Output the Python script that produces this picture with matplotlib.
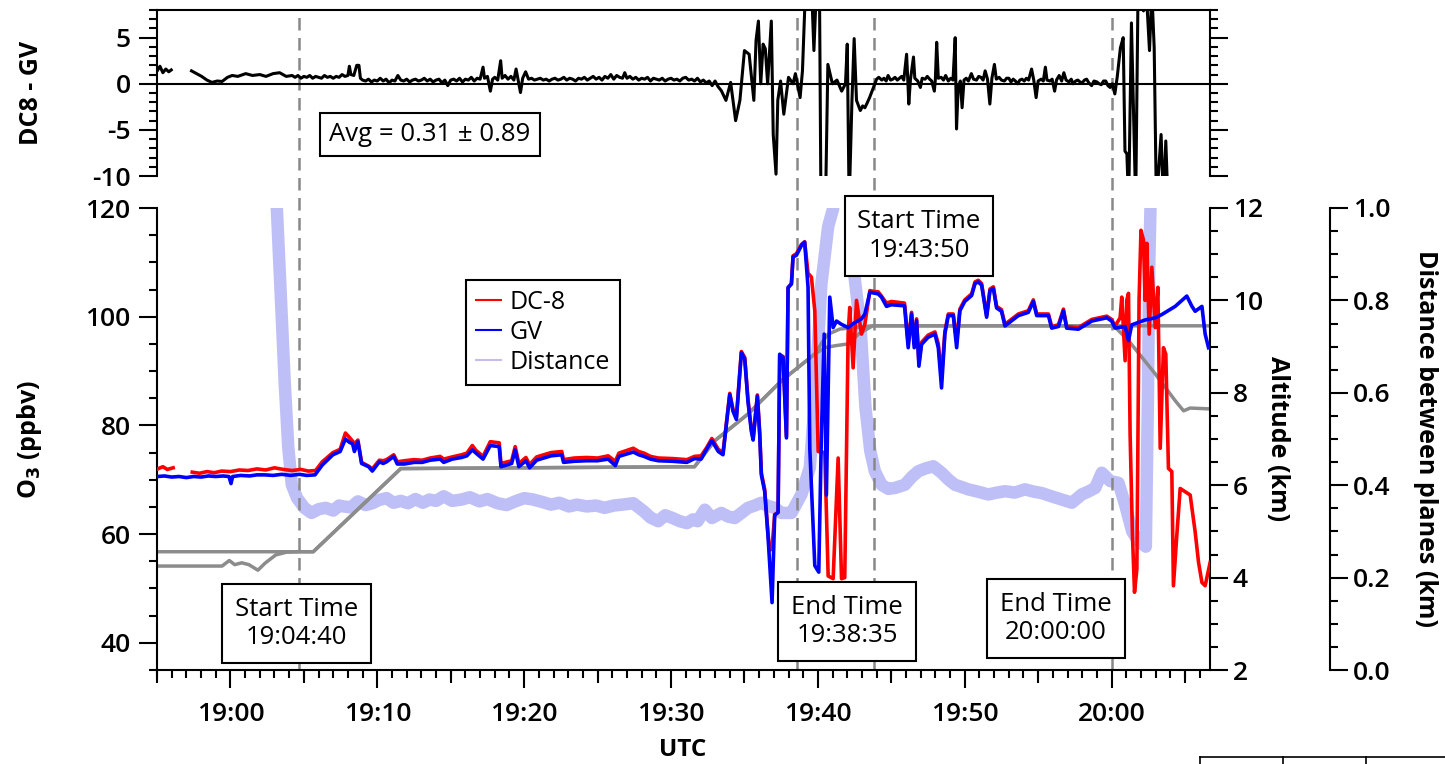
import numpy as np
import matplotlib
matplotlib.use("Agg")
import matplotlib.pyplot as plt
from matplotlib.ticker import MultipleLocator, FormatStrFormatter
from matplotlib.lines import Line2D

plt.rcParams['font.family'] = ['Open Sans', 'DejaVu Sans']
plt.rcParams['axes.unicode_minus'] = False

nan = np.nan

# all times are minutes after 19:00 UTC
# DC-8 ozone (ppbv)
dc8_o3 = [
    (-4.95, 72.0), (-4.6, 72.4), (-4.3, 71.9), (-3.9, 72.2), (-3.5, nan),
    (-2.6, 71.4), (-2.1, 71.2), (-1.6, 71.5), (-1.1, 71.3), (-0.6, 71.6),
    (0.0, 71.5), (0.6, 71.8), (1.2, 71.7), (1.8, 72.0), (2.4, 71.8),
    (3.0, 72.2), (3.6, 71.9), (4.2, 71.7), (4.8, 71.9), (5.3, 71.6),
    (5.8, 71.7), (6.25, 73.3), (6.98, 75.0), (7.47, 75.6), (7.83, 78.6),
    (8.1, 77.8), (8.32, 77.1), (8.44, 76.6), (8.68, 77.3), (8.93, 73.2),
    (9.41, 72.5), (9.66, 72.0), (10.14, 73.6), (10.4, 73.5), (10.63, 73.7),
    (11.12, 74.6), (11.36, 73.3), (11.85, 73.5), (12.5, 73.7), (13.06, 73.6),
    (13.6, 74.0), (14.28, 74.3), (14.52, 73.8), (15.1, 74.2), (15.74, 74.6),
    (16.1, 74.9), (16.47, 76.3), (16.72, 75.4), (17.2, 74.3), (17.69, 77.0),
    (18.3, 76.8), (18.42, 73.0), (19.15, 73.5), (19.39, 76.1), (19.64, 73.0),
    (20.12, 74.1), (20.37, 72.8), (20.85, 74.2), (21.83, 75.0), (22.56, 75.2),
    (22.68, 73.7), (23.4, 74.0), (24.26, 74.1), (25.0, 74.0), (25.72, 74.4),
    (26.21, 73.4), (26.45, 74.9), (27.43, 75.8), (27.8, 75.2), (28.16, 74.9),
    (28.6, 74.3), (29.13, 74.0), (30.1, 73.9), (31.08, 73.7), (31.6, 74.3),
    (32.05, 74.4), (32.4, 75.8), (32.78, 77.6), (33.22, 75.6), (33.54, 75.0),
    (34.0, 85.9), (34.22, 83.0), (34.45, 81.5), (34.79, 93.6), (35.02, 92.5),
    (35.24, 84.8), (35.47, 79.3), (35.59, 77.6), (35.88, 85.6), (36.04, 78.6),
    (36.15, 71.3), (36.38, 68.2), (36.6, 60.2), (36.72, 57.0), (36.88, 57.5),
    (37.06, 63.6), (37.29, 64.0), (37.4, 92.8), (37.63, 92.7), (37.86, 78.0),
    (37.97, 105.2), (38.2, 106.2), (38.31, 111.2), (38.54, 111.6), (38.88, 113.3),
    (39.1, 113.8), (39.33, 108.0), (39.56, 107.3), (39.79, 101.1), (40.02, 75.2),
    (40.47, 75.0), (40.7, 52.3), (41.04, 51.8), (41.38, 74.0), (41.61, 51.8),
    (41.83, 52.0), (42.06, 96.8), (42.17, 101.7), (42.4, 90.6), (42.63, 103.0),
    (42.97, 96.8), (43.2, 98.6), (43.54, 104.8), (43.88, 104.6), (44.1, 104.6),
    (44.33, 103.8), (44.67, 102.5), (45.0, 102.8), (45.9, 102.5), (46.15, 95.0),
    (46.38, 100.8), (46.56, 95.0), (46.72, 99.6), (46.88, 91.5), (47.06, 95.3),
    (47.5, 96.6), (47.97, 97.2), (48.2, 95.0), (48.42, 89.0), (48.65, 97.3),
    (48.88, 100.5), (49.22, 100.5), (49.45, 95.5), (49.67, 101.4), (50.0, 103.1),
    (50.47, 104.2), (50.7, 106.4), (50.92, 106.7), (51.15, 106.1), (51.49, 100.2),
    (51.72, 105.1), (51.95, 105.5), (52.17, 101.9), (52.5, 101.3), (52.74, 98.6),
    (53.65, 100.5), (54.33, 101.1), (54.67, 103.1), (54.9, 100.5), (55.7, 100.5),
    (55.92, 98.2), (56.38, 98.5), (56.72, 101.4), (56.94, 98.2), (57.74, 98.0),
    (58.65, 99.5), (59.67, 100.1), (60.0, 99.5), (60.24, 98.3), (60.58, 99.8),
    (60.69, 103.6), (60.92, 91.9), (61.03, 103.0), (61.15, 104.3), (61.26, 78.3),
    (61.42, 59.8), (61.56, 49.3), (61.72, 53.6), (61.87, 103.0), (62.0, 115.9),
    (62.17, 114.1), (62.28, 103.0), (62.4, 113.5), (62.56, 96.8), (62.74, 109.1),
    (62.97, 98.0), (63.15, 105.4), (63.31, 75.8), (63.53, 94.3), (63.69, 93.1),
    (63.87, 72.1), (64.1, 71.5), (64.21, 50.5), (64.44, 59.8), (64.67, 68.4),
    (65.01, 67.8), (65.35, 67.2), (65.69, 60.4), (65.92, 54.8), (66.15, 51.1),
    (66.37, 50.5), (66.71, 54.8),
]

# GV ozone (ppbv)
gv_o3 = [
    (-4.95, 70.6), (-4.5, 70.7), (-4.0, 70.5), (-3.5, 70.6), (-3.0, 70.4),
    (-2.51, 70.6), (-2.0, 70.5), (-1.5, 70.7), (-1.0, 70.6), (-0.5, 70.7),
    (-0.1, 70.6), (0.04, 69.3), (0.15, 70.6), (0.7, 70.8), (1.3, 70.7),
    (1.8, 70.9), (2.35, 70.9), (2.9, 70.8), (3.5, 71.0), (4.1, 70.8),
    (4.7, 71.0), (5.2, 70.8), (5.76, 70.9), (6.25, 72.7), (6.98, 74.6),
    (7.47, 75.2), (7.83, 77.5), (8.1, 76.9), (8.32, 76.6), (8.44, 75.2),
    (8.68, 77.0), (8.93, 73.0), (9.41, 72.4), (9.66, 71.6), (10.14, 73.3),
    (10.4, 73.0), (10.63, 73.3), (11.12, 74.3), (11.36, 72.9), (11.85, 72.9),
    (12.5, 73.2), (13.06, 73.2), (13.6, 73.6), (14.28, 73.8), (14.52, 73.2),
    (15.1, 73.8), (15.74, 74.1), (16.1, 74.4), (16.47, 75.5), (16.72, 74.9),
    (17.2, 73.8), (17.69, 76.3), (18.3, 76.1), (18.42, 72.4), (19.15, 73.0),
    (19.39, 75.5), (19.64, 72.4), (20.12, 73.5), (20.37, 72.2), (20.85, 73.6),
    (21.83, 74.4), (22.56, 74.6), (22.68, 73.2), (23.4, 73.4), (24.26, 73.5),
    (25.0, 73.5), (25.72, 73.8), (26.21, 72.6), (26.45, 74.3), (27.43, 75.1),
    (27.8, 74.6), (28.16, 74.3), (28.6, 73.8), (29.13, 73.5), (30.1, 73.4),
    (31.08, 73.2), (31.6, 73.9), (32.05, 73.8), (32.4, 75.5), (32.78, 77.2),
    (33.22, 75.2), (33.54, 74.6), (34.0, 85.7), (34.22, 82.6), (34.45, 81.1),
    (34.79, 93.4), (35.02, 92.2), (35.24, 84.4), (35.47, 78.9), (35.59, 77.3),
    (35.88, 85.4), (36.04, 78.3), (36.15, 70.9), (36.38, 67.8), (36.6, 59.8),
    (36.88, 47.4), (37.06, 63.5), (37.29, 64.0), (37.4, 93.1), (37.63, 92.5),
    (37.86, 77.7), (37.97, 105.4), (38.2, 106.0), (38.31, 111.0), (38.54, 111.3),
    (38.88, 113.1), (39.1, 113.7), (39.33, 105.4), (39.45, 75.8), (39.79, 54.2),
    (40.06, 53.0), (40.24, 78.3), (40.43, 96.8), (40.58, 67.2), (40.81, 103.6),
    (41.04, 98.0), (41.27, 99.2), (41.6, 98.6), (42.06, 98.0), (42.5, 98.9),
    (42.97, 99.6), (43.2, 100.5), (43.54, 104.5), (44.1, 104.2), (44.33, 103.6),
    (44.67, 101.9), (45.0, 102.2), (45.9, 102.0), (46.15, 94.3), (46.38, 100.5),
    (46.56, 94.3), (46.72, 99.3), (46.88, 90.9), (47.06, 94.9), (47.5, 96.2),
    (47.97, 96.8), (48.2, 94.3), (48.42, 86.9), (48.65, 96.9), (48.88, 100.2),
    (49.22, 100.2), (49.45, 94.3), (49.67, 101.1), (50.0, 102.8), (50.47, 103.9),
    (50.7, 106.1), (50.92, 106.4), (51.15, 105.8), (51.49, 99.9), (51.72, 104.8),
    (51.95, 105.2), (52.17, 101.6), (52.5, 101.0), (52.74, 98.3), (53.65, 100.2),
    (54.33, 100.8), (54.67, 102.8), (54.9, 100.2), (55.7, 100.2), (55.92, 97.9),
    (56.38, 98.2), (56.72, 101.1), (56.94, 97.9), (57.74, 97.7), (58.65, 99.2),
    (59.67, 99.8), (60.0, 99.2), (60.24, 97.9), (60.92, 98.2), (61.15, 95.6),
    (61.37, 98.5), (62.28, 99.4), (62.97, 99.8), (63.42, 100.4), (64.33, 101.9),
    (65.12, 103.8), (65.47, 101.9), (65.69, 101.0), (66.15, 101.9), (66.37, 96.8),
    (66.6, 94.3),
]

# aircraft altitude (km)
dc8_alt = [
    (-5.0, 4.56), (5.64, 4.56), (11.6, 6.36), (31.6, 6.40), (32.97, 6.96),
    (35.24, 7.54), (37.52, 8.26), (39.79, 8.84), (40.3, 9.10), (40.7, 9.27),
    (41.5, 9.38), (43.7, 9.45), (60.0, 9.45), (60.24, 9.42), (61.15, 9.13),
    (62.97, 8.41), (64.33, 7.83), (64.9, 7.61), (65.35, 7.67), (66.8, 7.65),
]
gv_alt = [
    (-5.0, 4.25), (-0.57, 4.25), (-0.08, 4.37), (0.29, 4.28), (0.77, 4.32),
    (1.26, 4.28), (1.87, 4.16), (2.35, 4.31), (3.08, 4.49), (3.81, 4.55),
    (4.79, 4.56), (5.64, 4.56), (11.6, 6.36), (31.6, 6.40), (32.97, 6.96),
    (35.24, 7.54), (37.52, 8.26), (39.79, 8.84), (40.5, 8.98), (41.2, 9.02),
    (42.1, 9.06), (42.76, 9.27), (43.73, 9.45), (66.8, 9.45),
]

# distance between planes (km)
distance = [
    (2.9, 1.15), (3.16, 1.0), (3.69, 0.626), (3.94, 0.481), (4.18, 0.401),
    (4.54, 0.372), (5.03, 0.351), (5.52, 0.340), (6.0, 0.348), (6.49, 0.351),
    (7.0, 0.345), (7.4, 0.356), (7.71, 0.354), (8.2, 0.352), (8.68, 0.365),
    (9.2, 0.357), (9.66, 0.361), (10.1, 0.368), (10.63, 0.372), (11.1, 0.362),
    (11.6, 0.366), (12.09, 0.361), (12.6, 0.370), (13.1, 0.362), (13.55, 0.369),
    (14.0, 0.366), (14.52, 0.376), (15.1, 0.366), (15.74, 0.369), (16.3, 0.374),
    (16.96, 0.365), (17.5, 0.370), (18.18, 0.361), (18.8, 0.357), (19.39, 0.365),
    (20.0, 0.372), (20.61, 0.369), (21.2, 0.364), (21.83, 0.358), (22.4, 0.362),
    (23.05, 0.354), (23.6, 0.358), (24.26, 0.354), (24.9, 0.356), (25.48, 0.351),
    (26.1, 0.356), (26.7, 0.358), (27.43, 0.361), (28.16, 0.343), (28.6, 0.330),
    (29.13, 0.322), (29.6, 0.335), (30.1, 0.329), (30.6, 0.322), (31.08, 0.318),
    (31.5, 0.326), (31.81, 0.322), (32.3, 0.347), (32.78, 0.329), (33.43, 0.340),
    (33.9, 0.332), (34.34, 0.329), (34.8, 0.340), (35.24, 0.351), (35.7, 0.356),
    (36.15, 0.362), (36.6, 0.355), (37.06, 0.351), (37.52, 0.340), (38.2, 0.340),
    (38.88, 0.380), (39.45, 0.438), (39.79, 0.583), (40.24, 0.836), (40.7, 0.960),
    (41.04, 0.999), (41.4, 1.08), (41.9, 1.10), (42.2, 1.0), (42.5, 0.85),
    (42.92, 0.735), (43.24, 0.568), (43.57, 0.474), (43.88, 0.430), (44.33, 0.401),
    (44.8, 0.392), (45.24, 0.394), (45.92, 0.401), (46.4, 0.418), (46.83, 0.430),
    (47.3, 0.436), (47.86, 0.441), (48.42, 0.427), (48.9, 0.412), (49.33, 0.401),
    (49.8, 0.396), (50.24, 0.391), (50.9, 0.386), (51.6, 0.380), (52.2, 0.384),
    (52.74, 0.387), (53.4, 0.384), (54.1, 0.391), (54.7, 0.386), (55.24, 0.383),
    (55.9, 0.376), (56.6, 0.369), (57.29, 0.362), (57.97, 0.380), (58.4, 0.386),
    (58.88, 0.394), (59.33, 0.427), (59.9, 0.409), (60.47, 0.405), (60.92, 0.358),
    (61.4, 0.30), (61.8, 0.28), (62.33, 0.267), (62.47, 0.583), (62.56, 0.873),
    (62.65, 1.003), (62.8, 1.12),
]

# DC8 - GV ozone difference (ppbv)
o3_diff = [
    (-4.95, 1.5), (-4.8, 1.9), (-4.6, 1.2), (-4.4, 1.6), (-4.2, 1.3),
    (-4.03, 1.5), (-3.3, nan), (-2.65, 1.4), (-2.3, 1.1), (-1.96, 0.8),
    (-1.6, 0.4), (-1.26, 0.15), (-0.9, 0.3), (-0.57, 0.25), (-0.2, 0.7),
    (0.12, 0.9), (0.5, 0.8), (1.04, 1.1), (1.5, 0.9), (2.0, 1.0),
    (2.42, 0.8), (2.9, 1.1), (3.35, 1.2), (3.8, 0.8), (4.2, 0.9),
    (4.4, 0.7), (4.6, 0.9), (4.8, 0.6), (5.0, 0.8), (5.2, 0.7),
    (5.4, 0.9), (5.6, 0.6), (5.8, 0.8), (6.0, 0.7), (6.2, 0.6),
    (6.4, 0.9), (6.6, 0.7), (6.8, 0.8), (7.0, 0.6), (7.2, 0.8),
    (7.4, 0.7), (7.6, 1.0), (7.8, 0.8), (8.0, 0.9), (8.1, 1.9),
    (8.2, 1.0), (8.4, 0.9), (8.6, 2.0), (8.75, 2.0), (8.85, 0.6),
    (9.0, 0.4), (9.2, 0.3), (9.4, 0.5), (9.6, 0.2), (9.8, 0.4),
    (10.0, 0.3), (10.2, 0.6), (10.4, 0.3), (10.6, 0.5), (10.8, 0.1),
    (11.0, 0.4), (11.2, 0.3), (11.4, 0.9), (11.6, 0.4), (11.8, 0.3),
    (12.0, 0.5), (12.2, 0.2), (12.4, 0.4), (12.6, 0.5), (12.8, 0.3),
    (13.0, 0.4), (13.2, 0.6), (13.4, 0.3), (13.6, 0.5), (13.8, 0.2),
    (14.0, 0.4), (14.2, 0.5), (14.4, 0.1), (14.6, 0.4), (14.8, -0.2),
    (15.0, 0.4), (15.2, 0.5), (15.4, 0.3), (15.6, 0.6), (15.8, 0.2),
    (16.0, 0.5), (16.2, 0.4), (16.4, 0.7), (16.6, 0.3), (16.8, 0.6),
    (17.0, 0.5), (17.2, 1.8), (17.3, 0.6), (17.5, 0.8), (17.7, -0.8),
    (17.85, 0.5), (18.0, 0.7), (18.2, 0.4), (18.4, 2.5), (18.5, 0.6),
    (18.7, 0.9), (18.9, 0.5), (19.1, 0.8), (19.3, 0.4), (19.45, 1.6),
    (19.6, 0.3), (19.75, -0.95), (19.9, 0.6), (20.1, 1.3), (20.3, 0.5),
    (20.5, 0.6), (20.7, 0.4), (20.9, 0.5), (21.1, 0.6), (21.3, 0.4),
    (21.5, 0.5), (21.7, 0.3), (21.9, 0.5), (22.1, 0.6), (22.3, 0.4),
    (22.5, 0.5), (22.7, 0.7), (22.9, 0.4), (23.1, 0.6), (23.3, 0.5),
    (23.5, 0.3), (23.7, 0.6), (23.9, 0.5), (24.1, 0.7), (24.3, 0.4),
    (24.5, 0.6), (24.7, 0.8), (24.9, 0.5), (25.1, 0.7), (25.3, 0.4),
    (25.5, 0.8), (25.7, 0.6), (25.9, 1.0), (26.1, 0.5), (26.3, 0.9),
    (26.5, 0.7), (26.7, 0.6), (26.85, 1.2), (27.0, 0.6), (27.2, 0.8),
    (27.4, 0.5), (27.6, 0.7), (27.8, 0.4), (28.0, 0.6), (28.2, 0.5),
    (28.4, 0.7), (28.6, 0.3), (28.8, 0.6), (29.0, 0.5), (29.2, 0.4),
    (29.4, 0.6), (29.6, 0.3), (29.8, 0.5), (30.0, 0.6), (30.2, 0.4),
    (30.4, 0.5), (30.6, 0.3), (30.8, 0.6), (31.0, 0.7), (31.2, 0.4),
    (31.4, 0.5), (31.6, 0.3), (31.8, 0.6), (32.0, 0.2), (32.2, 0.4),
    (32.4, 0.1), (32.6, 0.3), (32.8, -0.2), (33.0, 0.3), (33.2, -0.3),
    (33.43, -0.76), (33.74, -1.8), (34.06, 0.15), (34.4, -4.0), (34.69, -1.8),
    (35.0, 3.6), (35.32, 3.2), (35.64, -1.8), (35.79, 4.7), (35.95, 6.8),
    (36.11, 0.0), (36.27, 4.3), (36.42, 3.8), (36.58, 0.0), (36.83, 6.8),
    (36.96, -5.5), (37.15, -9.8), (37.27, -1.8), (37.46, 0.3), (37.68, -3.3),
    (38.0, 0.7), (38.31, 0.0), (38.47, 1.1), (38.79, -1.5), (38.95, 1.4),
    (39.1, 7.9), (39.26, 10.0), (39.58, 10.0), (39.73, 3.6), (39.89, 10.0),
    (40.11, 10.0), (40.21, -13.0), (40.52, -13.0), (40.68, 2.1), (40.99, 0.0),
    (41.3, 0.4), (41.62, -0.8), (41.88, 0.0), (42.0, 4.3), (42.13, -13.0),
    (42.32, -1.8), (42.47, 4.9), (42.63, -1.8), (42.89, -2.9), (43.05, -2.4),
    (43.2, -2.6), (43.35, -2.1), (43.52, -1.5), (43.83, -0.2), (44.0, 0.5),
    (44.15, 0.7), (44.35, 0.4), (44.5, 0.6), (44.65, 0.3), (44.78, 0.9),
    (44.95, 0.4), (45.1, 0.5), (45.25, 0.7), (45.41, 0.4), (45.55, 0.6),
    (45.7, 0.8), (45.85, 0.4), (46.04, 3.2), (46.12, 0.5), (46.19, -2.2),
    (46.3, 0.4), (46.51, 2.9), (46.6, 0.6), (46.8, 0.3), (46.98, -0.4),
    (47.1, 0.6), (47.3, 0.5), (47.45, 0.8), (47.61, 0.5), (47.75, 0.3),
    (47.93, -0.8), (48.0, 0.5), (48.09, 4.5), (48.2, 0.6), (48.4, 0.7),
    (48.55, 0.4), (48.7, 0.9), (48.88, 0.3), (49.05, 0.6), (49.2, 0.4),
    (49.35, 5.0), (49.44, -4.9), (49.55, -0.5), (49.7, 0.3), (49.82, -2.6),
    (49.95, 0.4), (50.1, 0.6), (50.25, 0.3), (50.45, 1.1), (50.6, 0.5),
    (50.8, 0.4), (50.95, 0.8), (51.1, 0.7), (51.25, 0.4), (51.39, 1.4),
    (51.55, 0.5), (51.71, -2.2), (51.85, 0.6), (52.02, 2.1), (52.15, 0.5),
    (52.34, 0.7), (52.5, 0.4), (52.7, 0.3), (52.85, 0.6), (53.0, 0.6),
    (53.15, 0.2), (53.3, 0.5), (53.45, 0.3), (53.6, 0.0), (53.75, 0.4),
    (53.9, 0.5), (54.05, 0.3), (54.2, 0.6), (54.35, 0.4), (54.55, 1.6),
    (54.7, 0.4), (54.86, -1.5), (55.0, 0.3), (55.2, 0.5), (55.35, 0.3),
    (55.49, 1.8), (55.6, 0.4), (55.8, 0.3), (55.95, 0.5), (56.12, -0.8),
    (56.25, 0.4), (56.43, 0.9), (56.6, 0.3), (56.75, 1.2), (56.9, 0.4),
    (57.1, 0.2), (57.25, 0.5), (57.38, 0.0), (57.55, 0.3), (57.7, 0.4),
    (57.85, 0.2), (58.0, 0.1), (58.15, 0.4), (58.3, 0.5), (58.45, 0.1),
    (58.64, -0.2), (58.8, 0.3), (59.0, 0.2), (59.15, 0.0), (59.3, -0.1),
    (59.45, 0.3), (59.6, 0.3), (59.75, -0.2), (59.9, -0.4), (60.05, 0.0),
    (60.22, -1.1), (60.38, 0.7), (60.6, 3.9), (60.79, 5.0), (60.91, -7.3),
    (61.04, -7.6), (61.16, -13.0), (61.35, 6.6), (61.64, -13.0), (61.8, 10.0),
    (61.96, 10.0), (62.17, 7.9), (62.36, 10.0), (62.58, 3.6), (62.74, 10.0),
    (62.9, 3.9), (63.05, -13.0), (63.37, -5.5), (63.53, -13.0), (63.69, -6.2),
    (63.84, -13.0),
]

x_ticks = [0, 10, 20, 30, 40, 50, 60]
x_labels = ['19:00', '19:10', '19:20', '19:30', '19:40', '19:50', '20:00']
mid_ticks = [-5, 5, 15, 25, 35, 45, 55, 65]
marks = [4 + 40 / 60, 38 + 35 / 60, 43 + 50 / 60, 60.0]
avg_text = 'Avg = 0.31 \u00b1 0.89'

W, H = 1445, 764
fig = plt.figure(figsize=(W / 100, H / 100), dpi=100)
left, right = 157 / W, 1210 / W
ax_top = fig.add_axes([left, 1 - 176 / H, right - left, 166 / H])
ax = fig.add_axes([left, 1 - 670 / H, right - left, 462 / H])
ax_alt = ax.twinx()
ax_dist = ax.twinx()

ax_dist.set_zorder(1)
ax_alt.set_zorder(2)
ax.set_zorder(3)
ax_top.set_zorder(4)
for a in (ax, ax_alt, ax_dist, ax_top):
    a.patch.set_visible(False)
    for s in a.spines.values():
        s.set_linewidth(1.5)

xlim = (-5, 66.7)
tick_kw = dict(direction='out', width=1.5, labelsize=19)

# distance between planes
t, d = zip(*distance)
ax_dist.plot(t, d, color='#bfbff7', lw=9, solid_capstyle='butt')
ax_dist.set_ylim(0, 1.0)
ax_dist.spines['right'].set_position(('outward', 86.4))
for s in ('left', 'top', 'bottom'):
    ax_dist.spines[s].set_visible(False)
ax_dist.yaxis.set_major_locator(MultipleLocator(0.2))
ax_dist.yaxis.set_minor_locator(MultipleLocator(0.05))
ax_dist.yaxis.set_major_formatter(FormatStrFormatter('%.1f'))
ax_dist.tick_params(axis='y', which='major', length=13, **tick_kw)
ax_dist.tick_params(axis='y', which='minor', length=6, width=1.5, direction='out')
ax_dist.set_ylabel('Distance between planes (km)', rotation=270, va='bottom',
                   fontsize=18, fontweight='bold')
ax_dist.yaxis.set_label_coords(1.193, 0.5)

# altitudes
for series in (dc8_alt, gv_alt):
    t, a = zip(*series)
    ax_alt.plot(t, a, color='#8c8c8c', lw=2.5)
ax_alt.set_ylim(2, 12)
for s in ('left', 'top', 'bottom'):
    ax_alt.spines[s].set_visible(False)
ax_alt.yaxis.set_major_locator(MultipleLocator(2))
ax_alt.yaxis.set_minor_locator(MultipleLocator(0.5))
ax_alt.tick_params(axis='y', which='major', length=13, **tick_kw)
ax_alt.tick_params(axis='y', which='minor', length=6, width=1.5, direction='out')
ax_alt.set_ylabel('Altitude (km)', rotation=270, va='bottom',
                  fontsize=18, fontweight='bold')
ax_alt.yaxis.set_label_coords(1.052, 0.5)

# ozone
t, o = zip(*dc8_o3)
ax.plot(t, o, color='#ff0000', lw=2.6, zorder=3)
t, o = zip(*gv_o3)
ax.plot(t, o, color='#0000ff', lw=2.6, zorder=4)
ax.set_xlim(*xlim)
ax.set_ylim(35, 120)
ax.spines['top'].set_visible(False)
ax.spines['right'].set_visible(False)
ax.yaxis.set_major_locator(MultipleLocator(20))
ax.yaxis.set_minor_locator(MultipleLocator(5))
ax.set_xticks(x_ticks)
ax.set_xticklabels(x_labels)
ax.xaxis.set_minor_locator(MultipleLocator(1))
ax.tick_params(axis='both', which='major', length=13, pad=6, **tick_kw)
ax.tick_params(axis='x', which='major', pad=10)
ax.tick_params(axis='both', which='minor', length=6, width=1.5, direction='out')
ax.set_ylabel('O$_\\mathbf{3}$ (ppbv)', fontsize=18, fontweight='bold')
ax.yaxis.set_label_coords(-0.107, 0.5)
ax.set_xlabel('UTC', fontsize=17.5, fontweight='bold', va='top')
ax.xaxis.set_label_coords(0.4995, -0.147)

sec = ax.secondary_xaxis('bottom')
sec.set_xticks(mid_ticks)
sec.tick_params(axis='x', length=9, width=1.5, direction='out', labelbottom=False)
sec.xaxis.set_minor_locator(plt.NullLocator())
sec.spines['bottom'].set_visible(False)

for m in marks:
    ax.axvline(m, ymin=0, ymax=(670 - 10) / 462, color='#888888', lw=1.8,
               dashes=(5, 3), clip_on=False, zorder=1)

handles = [Line2D([], [], color='#ff0000', lw=1.5),
           Line2D([], [], color='#0000ff', lw=1.5),
           Line2D([], [], color='#c8bce8', lw=1.5)]
leg = ax.legend(handles, ['DC-8', 'GV', 'Distance'], loc='upper left',
                bbox_to_anchor=((466 - 157) / 1053, (670 - 280) / 462),
                borderaxespad=0, fancybox=False, framealpha=1, fontsize=18,
                handlelength=1.0, handletextpad=0.35, labelspacing=0.2,
                borderpad=0.4)
leg.get_frame().set_edgecolor('black')
leg.get_frame().set_linewidth(1.5)

# top panel: difference
t, dv = zip(*o3_diff)
ax_top.plot(t, dv, color='black', lw=2.2)
ax_top.axhline(0, color='black', lw=1.5)
ax_top.set_xlim(*xlim)
ax_top.set_ylim(-10, 8)
ax_top.spines['bottom'].set_visible(False)
ax_top.set_xticks([])
ax_top.yaxis.set_major_locator(MultipleLocator(5))
ax_top.yaxis.set_minor_locator(MultipleLocator(1))
ax_top.tick_params(axis='y', which='major', length=13, pad=6, right=True,
                   labelright=False, **tick_kw)
ax_top.tick_params(axis='y', which='minor', length=6, width=1.5,
                   direction='out', right=True)
ax_top.set_ylabel('DC8 - GV', fontsize=18, fontweight='bold')
ax_top.yaxis.set_label_coords(-0.107, 0.5)

# tick labels are a little heavier than the box texts
for a in (ax, ax_alt, ax_dist, ax_top):
    for lbl in a.get_xticklabels() + a.get_yticklabels():
        lbl.set_fontweight('semibold')

box = dict(boxstyle='square,pad=0.5', facecolor='white', edgecolor='black', lw=1.5)
fig.text(430 / W, 1 - 134.5 / H, avg_text, ha='center', va='center',
         fontsize=18.5, zorder=10,
         bbox=dict(boxstyle='square,pad=0.35', facecolor='white',
                   edgecolor='black', lw=1.5))
box_pos = [(296.5, 623.5), (847, 621.5), (919, 236), (1056, 618.5)]
box_text = ['Start Time\n19:04:40', 'End Time\n19:38:35',
            'Start Time\n19:43:50', 'End Time\n20:00:00']
for (bx, by), txt in zip(box_pos, box_text):
    fig.text(bx / W, 1 - by / H, txt, ha='center', va='center',
             fontsize=18.5, zorder=10, multialignment='center', bbox=box)

# piece of the next figure's table at the bottom edge
for xs, ys in (([1200, 1445], [757, 757]), ([1200, 1200], [757, 764]),
               ([1283, 1283], [757, 764]), ([1366, 1366], [757, 764])):
    fig.add_artist(Line2D([x / W for x in xs], [1 - y / H for y in ys],
                          transform=fig.transFigure, color='black', lw=1.2))

fig.savefig('out.png', dpi=100)
